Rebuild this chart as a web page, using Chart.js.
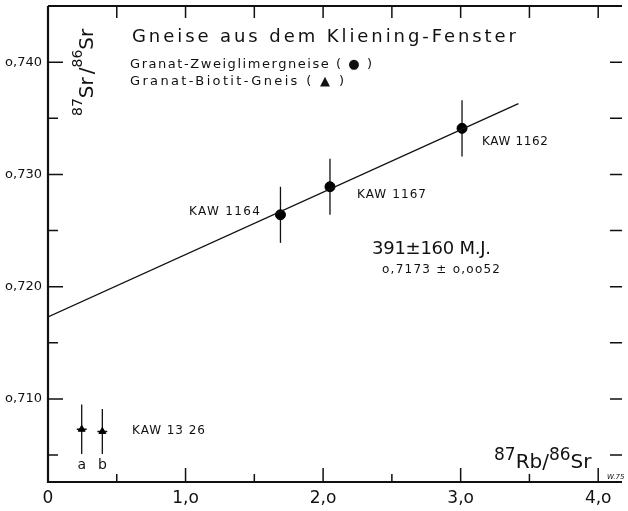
<!DOCTYPE html>
<html>
<head>
<meta charset="utf-8">
<script src="https://cdn.jsdelivr.net/npm/chart.js@4/dist/chart.umd.min.js"></script>
<style>
  html, body { margin: 0; padding: 0; background: #fff; }
</style>
</head>
<body>
<canvas id="c" width="628" height="511"></canvas>
<script>
// Granat-Zweiglimmergneise (Punkte auf der Isochrone)
const pointNames = ['KAW 1164', 'KAW 1167', 'KAW 1162'];
const pointX = [1.69, 2.05, 3.01];
const pointY = [0.7264, 0.7289, 0.7341];
const pointErr = [0.0025, 0.0025, 0.0025];

// Granat-Biotit-Gneis KAW 1326 (a, b)
const biotitNames = ['a', 'b'];
const biotitX = [0.245, 0.395];
const biotitY = [0.7073, 0.7071];
const biotitErr = [0.0022, 0.0020];
const biotitXErr = [0.036, 0.036];

// Isochrone
const lineX = [0, 3.42];
const lineY = [0.7173, 0.7363];

// Achsen
const xTicks = [0, 1, 2, 3, 4];
const xMinor = [0.5, 1.5, 2.5, 3.5];
const xTop = [0.5, 1, 1.5, 2, 2.5, 3, 3.5, 4];
const yTicks = [0.710, 0.720, 0.730, 0.740];
const yMinor = [0.705, 0.715, 0.725, 0.735];
const yRight = [0.705, 0.710, 0.715, 0.720, 0.725, 0.730, 0.735, 0.740];

const FONT = '"DejaVu Sans", sans-serif';

// 文字を指定幅に合わせて字間を広げて描く
function spaced(ctx, text, x, y, w, size) {
  ctx.font = size + 'px ' + FONT;
  ctx.letterSpacing = '0px';
  const m = ctx.measureText(text).width;
  const ls = text.length > 1 ? (w - m) / (text.length - 1) : 0;
  ctx.letterSpacing = ls + 'px';
  ctx.textAlign = 'left';
  ctx.textBaseline = 'middle';
  ctx.fillText(text, x, y);
  ctx.letterSpacing = '0px';
}

// 上付き文字つきのラベル
function rich(ctx, parts, x, y) {
  ctx.textAlign = 'left';
  ctx.textBaseline = 'alphabetic';
  let cx = x;
  for (const p of parts) {
    ctx.font = p.size + 'px ' + FONT;
    ctx.fillText(p.t, cx, y + p.dy);
    cx += ctx.measureText(p.t).width + (p.gap || 0);
  }
}

const decor = {
  id: 'decor',
  beforeDraw(chart) {
    chart.ctx.letterSpacing = '0px';
  },
  beforeDatasetsDraw(chart) {
    const ctx = chart.ctx, xs = chart.scales.x, ys = chart.scales.y;
    ctx.save();
    ctx.strokeStyle = '#111';
    ctx.lineWidth = 1.3;
    // Fehlerbalken
    for (let i = 0; i < pointX.length; i++) {
      const px = xs.getPixelForValue(pointX[i]);
      ctx.beginPath();
      ctx.moveTo(px, ys.getPixelForValue(pointY[i] - pointErr[i]));
      ctx.lineTo(px, ys.getPixelForValue(pointY[i] + pointErr[i]));
      ctx.stroke();
    }
    for (let i = 0; i < biotitX.length; i++) {
      const px = xs.getPixelForValue(biotitX[i]);
      const py = ys.getPixelForValue(biotitY[i]);
      ctx.beginPath();
      ctx.moveTo(px, ys.getPixelForValue(biotitY[i] - biotitErr[i]));
      ctx.lineTo(px, ys.getPixelForValue(biotitY[i] + biotitErr[i]));
      ctx.moveTo(xs.getPixelForValue(biotitX[i] - biotitXErr[i]), py);
      ctx.lineTo(xs.getPixelForValue(biotitX[i] + biotitXErr[i]), py);
      ctx.stroke();
    }
    ctx.restore();
  },
  afterDraw(chart) {
    const ctx = chart.ctx, xs = chart.scales.x, ys = chart.scales.y;
    const a = chart.chartArea;
    ctx.save();
    ctx.strokeStyle = '#111';
    ctx.fillStyle = '#111';
    // Rahmen
    ctx.lineWidth = 2.2;
    ctx.beginPath();
    ctx.moveTo(a.left, a.top);
    ctx.lineTo(a.left, a.bottom);
    ctx.lineTo(a.right, a.bottom);
    ctx.stroke();
    ctx.lineWidth = 1.8;
    ctx.beginPath();
    ctx.moveTo(a.left, a.top);
    ctx.lineTo(a.right, a.top);
    ctx.stroke();
    // Teilstriche nach innen
    ctx.lineWidth = 1.5;
    ctx.beginPath();
    for (const v of yTicks) {
      const py = ys.getPixelForValue(v);
      ctx.moveTo(a.left, py); ctx.lineTo(a.left + 15, py);
    }
    for (const v of yMinor) {
      const py = ys.getPixelForValue(v);
      ctx.moveTo(a.left, py); ctx.lineTo(a.left + 10, py);
    }
    for (const v of yRight) {
      const py = ys.getPixelForValue(v);
      ctx.moveTo(a.right, py); ctx.lineTo(a.right - 12, py);
    }
    for (const v of xTicks.slice(1)) {
      const px = xs.getPixelForValue(v);
      ctx.moveTo(px, a.bottom); ctx.lineTo(px, a.bottom - 14);
    }
    for (const v of xMinor) {
      const px = xs.getPixelForValue(v);
      ctx.moveTo(px, a.bottom); ctx.lineTo(px, a.bottom - 8);
    }
    for (const v of xTop) {
      const px = xs.getPixelForValue(v);
      ctx.moveTo(px, a.top); ctx.lineTo(px, a.top + 12);
    }
    ctx.stroke();

    // Titel und Legende
    spaced(ctx, 'Gneise aus dem Kliening-Fenster', 132, 37, 384, 18);
    spaced(ctx, 'Granat-Zweiglimergneise ( ● )', 130, 65, 242, 13);
    spaced(ctx, 'Granat-Biotit-Gneis ( ▲ )', 130, 82, 214, 13);

    // Probenbezeichnungen
    spaced(ctx, pointNames[0], 189, 212, 71, 12);
    spaced(ctx, pointNames[1], 357, 195, 69, 12);
    spaced(ctx, pointNames[2], 482, 142, 66, 12);
    spaced(ctx, 'KAW 13 26', 132, 431, 73, 12);
    ctx.font = '14px ' + FONT;
    ctx.textAlign = 'center';
    ctx.textBaseline = 'middle';
    ctx.fillText(biotitNames[0], xs.getPixelForValue(biotitX[0]), 465);
    ctx.fillText(biotitNames[1], xs.getPixelForValue(biotitX[1]), 465);

    // Alter
    spaced(ctx, '391±160 M.J.', 372, 249, 119, 18);
    spaced(ctx, 'o,7173 ± o,oo52', 382, 270, 118, 12);

    // Achsentitel
    rich(ctx, [
      { t: '87', size: 17, dy: -8 },
      { t: 'Rb', size: 20, dy: 0 },
      { t: '/', size: 20, dy: 0 },
      { t: '86', size: 17, dy: -8 },
      { t: 'Sr', size: 20, dy: 0 }
    ], 494, 468);
    ctx.save();
    ctx.translate(93, 116);
    ctx.rotate(-Math.PI / 2);
    rich(ctx, [
      { t: '87', size: 14, dy: -11 },
      { t: 'Sr', size: 20, dy: 0, gap: 3 },
      { t: '/', size: 20, dy: 0 },
      { t: '86', size: 14, dy: -11 },
      { t: 'Sr', size: 20, dy: 0 }
    ], 0, 0);
    ctx.restore();

    ctx.font = 'italic 7px ' + FONT;
    ctx.textAlign = 'left';
    ctx.textBaseline = 'middle';
    ctx.fillText('W.75', 607, 477);
    ctx.restore();
  }
};

new Chart(document.getElementById('c'), {
  type: 'scatter',
  data: {
    datasets: [{
      type: 'line',
      data: lineX.map((x, i) => ({ x: x, y: lineY[i] })),
      borderColor: '#111',
      borderWidth: 1.3,
      pointRadius: 0,
      showLine: true
    }, {
      data: pointX.map((x, i) => ({ x: x, y: pointY[i] })),
      pointStyle: 'circle',
      pointRadius: 5,
      backgroundColor: '#000',
      borderColor: '#000'
    }, {
      data: biotitX.map((x, i) => ({ x: x, y: biotitY[i] })),
      pointStyle: 'triangle',
      pointRadius: 4,
      backgroundColor: '#000',
      borderColor: '#000'
    }]
  },
  options: {
    responsive: false,
    animation: false,
    devicePixelRatio: 1,
    layout: { padding: { top: 5, left: 0, right: 0, bottom: 0 } },
    plugins: { legend: { display: false }, tooltip: { enabled: false } },
    scales: {
      x: {
        type: 'linear',
        min: 0,
        max: 4.173,
        grid: { display: false, drawTicks: false },
        border: { display: false },
        afterBuildTicks: s => { s.ticks = xTicks.map(v => ({ value: v })); },
        afterFit: s => {
          s.height = 29;
          s.paddingLeft = 0; s.paddingRight = 0;
        },
        ticks: {
          color: '#111',
          padding: 6,
          maxRotation: 0,
          font: { family: FONT, size: 17 },
          callback: v => v === 0 ? '0' : v + ',o'
        }
      },
      y: {
        min: 0.7026,
        max: 0.745,
        grid: { display: false, drawTicks: false },
        border: { display: false },
        afterBuildTicks: s => { s.ticks = yTicks.map(v => ({ value: v })); },
        afterFit: s => {
          s.width = 48;
          s.paddingTop = 0; s.paddingBottom = 0;
        },
        ticks: {
          color: '#111',
          padding: 6,
          font: { family: FONT, size: 13 },
          callback: v => 'o,' + Math.round(v * 1000)
        }
      }
    }
  },
  plugins: [decor]
});
</script>
</body>
</html>
